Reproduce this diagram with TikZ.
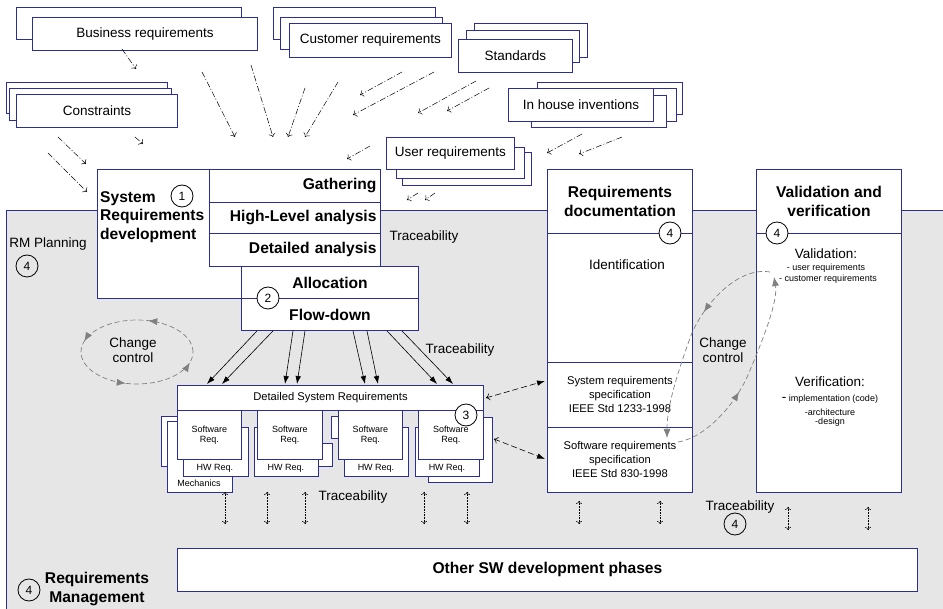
\documentclass[tikz,border=0pt]{standalone}
\usepackage{fontspec}
\setmainfont{Liberation Sans}
\usetikzlibrary{calc,arrows.meta,decorations.markings}
\definecolor{rmblue}{RGB}{45,45,150}
\definecolor{rmgray}{RGB}{230,230,230}
\definecolor{ccgray}{RGB}{128,128,128}
\newcommand{\nf}{\fontsize{13.5}{15}\selectfont}
\newcommand{\bff}{\fontsize{15.6}{18.5}\selectfont\bfseries}
\newcommand{\mf}{\fontsize{11.2}{14}\selectfont}
\newcommand{\sff}{\fontsize{9}{10.5}\selectfont}
\tikzset{
  reqbox/.style={draw=rmblue,line width=0.9pt,fill=white,inner sep=0pt,anchor=north west},
  backbox/.style={draw=rmblue,line width=0.9pt,fill=white},
  numcirc/.style={circle,draw,line width=0.8pt,fill=white,inner sep=0pt,minimum size=22pt,font=\fontsize{12}{12}\selectfont},
  srcarrow/.style={-{To[length=3.5pt,width=7pt]},line width=0.5pt,dash pattern=on 6pt off 2pt on 1pt off 2pt},
  tracearrow/.style={{To[length=3pt,width=6pt]}-{To[length=3pt,width=6pt]},densely dotted,line width=0.5pt},
  ccarrow/.style={ccgray,line width=0.7pt,dash pattern=on 5pt off 3pt},
  cctip/.style={postaction=decorate},
}
\begin{document}
\begin{tikzpicture}[x=1pt,y=-1pt]
\useasboundingbox (0,0) rectangle (943,609);
\fill[rmgray] (6,210) rectangle (943,609);
\draw[rmblue,line width=0.9pt] (943,210) -- (6,210) -- (6,609);

% sources
\draw[backbox] (16,7) rectangle (241,39);
\node[reqbox,minimum width=225pt,minimum height=33pt,font=\nf] (busreq) at (32,17) {Business requirements};
\draw[backbox] (273,7) rectangle (435,39);
\draw[backbox] (280,17) rectangle (442,49);
\node[reqbox,minimum width=162pt,minimum height=34pt,font=\nf] (custreq) at (289,23) {Customer requirements};
\draw[backbox] (474,23) rectangle (587,57);
\draw[backbox] (466,30) rectangle (579,62);
\node[reqbox,minimum width=114pt,minimum height=33pt,font=\nf] (stdreq) at (458,39) {Standards};
\draw[backbox] (537,82) rectangle (682,114);
\draw[backbox] (520,88) rectangle (676,121);
\draw[backbox] (531,95) rectangle (666,127);
\node[reqbox,minimum width=145pt,minimum height=33pt,font=\nf] (inhouse) at (508,88) {In house inventions};
\draw[backbox] (6,82) rectangle (167,113);
\draw[backbox] (9,88) rectangle (171,120);
\node[reqbox,minimum width=161pt,minimum height=33pt,font=\nf] (constr) at (16,94) {Constraints};
\draw[backbox] (402,152) rectangle (531,185);
\draw[backbox] (396,147) rectangle (524,178);
\node[reqbox,minimum width=128pt,minimum height=32pt,font=\nf] (userreq) at (386,137) {User requirements};

\foreach \a/\b/\c/\d in {122/49/136/69,202/72/235/137,251/65/273/137,305/88/288/137,338/82/305/137,
  402/72/360/95,434/72/353/115,476/81/418/113,489/88/447/111,135/137/143/144,58/137/86/164,
  48/153/87/192,370/146/347/159,418/193/407/200,435/193/425/200,582/134/547/153,622/137/579/154}
  \draw[srcarrow] (\a,\b) -- (\c,\d);

% development
\node[reqbox,minimum width=283pt,minimum height=129pt] (sysdev) at (97,169) {};
\node[anchor=west,align=left,inner sep=0pt,font=\bff] (sysdevtext) at (100,217) {System\\Requirements\\development};
\node[numcirc] (n1) at (182,196) {1};
\node[reqbox,minimum width=171pt,minimum height=33pt,text width=163pt,align=right,inner xsep=4pt,font=\bff] (gath) at (209,169) {Gathering};
\node[reqbox,minimum width=171pt,minimum height=31pt,text width=163pt,align=right,inner xsep=4pt,font=\bff] (hla) at (209,202) {High-Level analysis};
\node[reqbox,minimum width=171pt,minimum height=33pt,text width=163pt,align=right,inner xsep=4pt,font=\bff] (dana) at (209,233) {Detailed analysis};
\node[reqbox,minimum width=177pt,minimum height=32pt,font=\bff] (alloc) at (241,266) {Allocation};
\node[reqbox,minimum width=177pt,minimum height=32pt,font=\bff] (flow) at (241,298) {Flow-down};
\node[numcirc] (n2) at (268,298) {2};

\node[font=\nf] (rmplan) at (48,244) {RM Planning};
\node[numcirc,fill=none] (n4a) at (27,266) {4};
\node[font=\nf] (tr1) at (424,237) {Traceability};
\node[font=\nf] (tr2) at (460,350) {Traceability};
\node[font=\nf] (tr3) at (353,497) {Traceability};
\node[font=\nf] (tr4) at (740,507) {Traceability};

% change control
\draw[ccarrow,cctip,decoration={markings,
    mark=at position 0.21 with {\arrow{Latex[length=9pt,width=7pt]}},
    mark=at position 0.46 with {\arrow{Latex[length=9pt,width=7pt]}},
    mark=at position 0.71 with {\arrow{Latex[length=9pt,width=7pt]}},
    mark=at position 0.96 with {\arrow{Latex[length=9pt,width=7pt]}}}]
  (193,352) arc[start angle=0,end angle=-360,x radius=56,y radius=32];
\node[font=\nf,align=center] (cc1) at (133,350) {Change\\control};

% detailed requirements
\node[reqbox,minimum width=306pt,minimum height=25pt,font=\mf] (dsr) at (177,385) {Detailed System Requirements};
\draw[backbox] (161,416) rectangle (200,466);
\node[reqbox,minimum width=65pt,minimum height=71pt] (mech) at (167,421) {};
\node[font=\sff] (mechtext) at (199,483) {Mechanics};
\node[reqbox,minimum width=65pt,minimum height=49pt] (hwa) at (183,427) {};
\node[font=\sff] (hwatext) at (215,468) {HW Req.};
\node[reqbox,minimum width=64pt,minimum height=49pt,font=\sff,align=center] (swa) at (177,410) {Software\\Req.};
\draw[backbox] (260,443) rectangle (332,466);
\node[reqbox,minimum width=64pt,minimum height=49pt] (hwb) at (254,427) {};
\node[font=\sff] (hwbtext) at (286,468) {HW Req.};
\node[reqbox,minimum width=65pt,minimum height=49pt,font=\sff,align=center] (swb) at (257,410) {Software\\Req.};
\draw[backbox] (331,416) rectangle (360,438);
\node[reqbox,minimum width=64pt,minimum height=49pt] (hwc) at (344,427) {};
\node[font=\sff] (hwctext) at (376,468) {HW Req.};
\node[reqbox,minimum width=64pt,minimum height=49pt,font=\sff,align=center] (swc) at (338,410) {Software\\Req.};
\node[reqbox,minimum width=64pt,minimum height=65pt] (hwdback) at (428,417) {};
\node[reqbox,minimum width=64pt,minimum height=49pt] (hwd) at (415,427) {};
\node[font=\sff] (hwdtext) at (447,468) {HW Req.};
\node[reqbox,minimum width=65pt,minimum height=49pt,font=\sff,align=center] (swd) at (418,410) {Software\\Req.};
\node[numcirc] (n3) at (466,415) {3};

\foreach \s/\e in {16/30,32/45,52/108,64/120,112/188,126/201,146/260,161/276}
  \draw[-{Latex[length=8pt,width=5.5pt]},line width=0.6pt] ($(flow.south west)+(\s,0)$) -- ($(dsr.north west)+(\e,-1)$);

% documentation
\node[reqbox,minimum width=145pt,minimum height=64pt,font=\bff,align=center] (reqdoc) at (547,169) {Requirements\\documentation};
\node[reqbox,minimum width=145pt,minimum height=129pt] (reqident) at (547,233) {};
\node[font=\nf] (identtext) at (627,265) {Identification};
\node[reqbox,minimum width=145pt,minimum height=65pt,font=\mf,align=center] (sysspec) at (547,362) {System requirements\\specification\\IEEE Std 1233-1998};
\node[reqbox,minimum width=145pt,minimum height=65pt,font=\mf,align=center] (swspec) at (547,427) {Software requirements\\specification\\IEEE Std 830-1998};
\node[numcirc] (n4b) at (670,233) {4};

\draw[dash pattern=on 6pt off 3pt,{To[length=4pt,width=7pt]}-{Latex[length=8pt,width=5.5pt]},line width=0.6pt] ($(dsr.east)+(2,0)$) -- ($(sysspec.west)+(-2,-14)$);
\draw[dash pattern=on 6pt off 3pt,{To[length=4pt,width=7pt]}-{Latex[length=8pt,width=5.5pt]},line width=0.6pt] ($(hwdback.east)+(1,-11)$) -- ($(swspec.west)+(-2,-1)$);

% validation
\node[reqbox,minimum width=145pt,minimum height=64pt,font=\bff,align=center] (valhead) at (756,169) {Validation and\\verification};
\node[reqbox,minimum width=145pt,minimum height=259pt] (valbody) at (756,233) {};
\node[numcirc] (n4c) at (777,233) {4};
\node[font=\nf] (valtext) at (826,254) {Validation:};
\node[font=\sff] (valuser) at (826,268) {- user requirements};
\node[font=\sff] (valcust) at (828,279) {- customer requirements};
\node[font=\nf] (vertext) at (830,382) {Verification:};
\node[font=\sff] (verimpl) at (830,399) {{\nf -} implementation (code)};
\node[font=\sff] (verarch) at (830,412) {-architecture};
\node[font=\sff] (verdes) at (830,422) {-design};

\coordinate (ccva) at (770,272);
\coordinate (ccsw) at (667,438);
\coordinate (ccsb) at (678,442);
\coordinate (ccvb) at (774,277);
\draw[ccarrow,cctip,-{Latex[length=9pt,width=7pt]},decoration={markings,
    mark=at position 0.38 with {\arrow{Latex[length=9pt,width=7pt]}}}]
  (ccva) .. controls (735,266) and (700,310) .. (690,338) .. controls (678,372) and (667,405) .. (ccsw);
\draw[ccarrow,cctip,-{Latex[length=9pt,width=7pt]},decoration={markings,
    mark=at position 0.4 with {\arrow{Latex[length=9pt,width=7pt]}}}]
  (ccsb) .. controls (705,438) and (735,405) .. (748,375) .. controls (765,335) and (778,300) .. (ccvb);
\node[font=\nf,align=center] (cc2) at (723,350) {Change\\control};

% traceability
\foreach \x/\a/\b in {225/492/524,267/492/524,305/492/524,424/492/524,467/492/524,
  579/501/524,660/501/524,788/507/530,868/507/530}
  \draw[tracearrow] (\x,\a) -- (\x,\b);
\node[numcirc,fill=none] (n4d) at (735,524) {4};

\node[reqbox,minimum width=740pt,minimum height=43pt,font=\bff] (othersw) at (177,548) {Other SW development phases};
\node[numcirc,fill=none] (n4e) at (29,590) {4};
\node[font=\bff,align=center] (rmmgmt) at (97,589) {Requirements\\Management};
\end{tikzpicture}
\end{document}
